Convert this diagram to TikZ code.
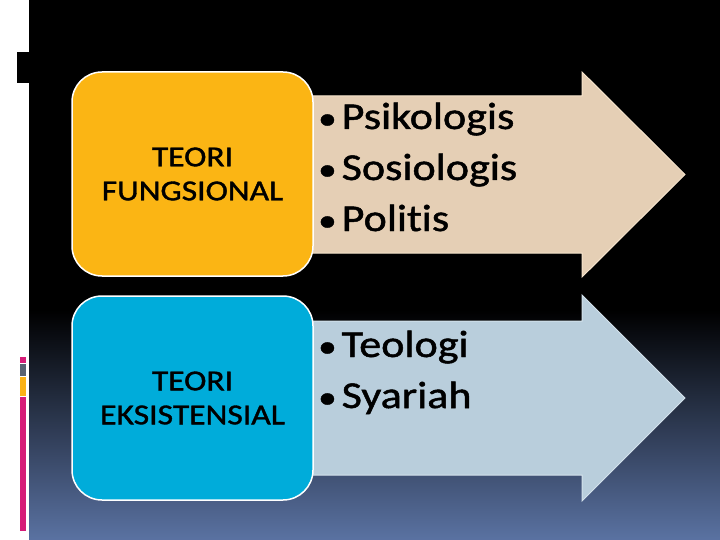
\documentclass[tikz,border=0pt]{standalone}
\usepackage{fontspec}
\setmainfont{Carlito}
\newfontfamily\slidefont[FakeStretch=1.16, FakeBold=1.3, Ligatures=NoCommon]{Carlito}
\usetikzlibrary{positioning}

\definecolor{teori_orange}{RGB}{251,181,20}
\definecolor{teori_blue}{RGB}{0,172,218}
\definecolor{arrow_tan}{RGB}{229,207,181}
\definecolor{arrow_tan_edge}{RGB}{246,228,204}
\definecolor{arrow_blue}{RGB}{185,206,220}
\definecolor{arrow_blue_edge}{RGB}{212,226,236}
\definecolor{slide_blue}{RGB}{90,114,162}
\definecolor{bar_pink}{RGB}{214,28,120}
\definecolor{bar_grey}{RGB}{88,98,114}
\definecolor{bar_orange}{RGB}{250,178,22}

\newcommand{\pointmark}{{\fontsize{32}{32}\selectfont\textbullet}\hspace{5pt}}

\tikzstyle{teori_box} = [
    rounded corners=30pt,
    draw=white,
    line width=1.5pt,
    minimum width=241pt,
    minimum height=204pt,
    align=center,
    text=black,
    font=\slidefont\fontsize{29}{34}\selectfont
]
\tikzstyle{point} = [
    anchor=base west,
    inner sep=0pt,
    text=black,
    font=\slidefont\fontsize{38}{51}\selectfont
]

\begin{document}
\begin{tikzpicture}[x=1pt, y=-1pt]
\useasboundingbox (0,0) rectangle (720,540);
% slide background
\fill[white] (0,0) rectangle (29,540);
\fill[black] (29,0) rectangle (720,540);
\shade[top color=black, bottom color=slide_blue] (29,310) rectangle (720,540);
\fill[black] (17,52) rectangle (29,83);
\fill[bar_pink] (20,357) rectangle (26,363);
\fill[bar_grey] (20,364) rectangle (26,376);
\fill[bar_orange] (20,377) rectangle (26,396);
\fill[bar_pink] (20,397) rectangle (26,531);

% arrows
\draw[fill=arrow_tan, draw=arrow_tan_edge, line width=1pt]
    (290,96) -- (582,96) -- (582,72) -- (685,174.5) -- (582,277)
    -- (582,253) -- (290,253) -- cycle;
\draw[fill=arrow_blue, draw=arrow_blue_edge, line width=1pt]
    (290,321) -- (582,321) -- (582,295) -- (685,398) -- (582,501)
    -- (582,475) -- (290,475) -- cycle;

% boxes
\node [teori_box, fill=teori_orange] (fungsional) at (192.5,174) {TEORI\\FUNGSIONAL};
\node [teori_box, fill=teori_blue] (eksistensial) at (192.5,398) {TEORI\\EKSISTENSIAL};

% points
\node [point] (psikologis) at (318,129) {\pointmark Psikologis};
\node [point] (sosiologis) at (318,180) {\pointmark Sosiologis};
\node [point] (politis) at (318,231) {\pointmark Politis};
\node [point] (teologi) at (318,357) {\pointmark Teologi};
\node [point] (syariah) at (318,408) {\pointmark Syariah};
\end{tikzpicture}
\end{document}
